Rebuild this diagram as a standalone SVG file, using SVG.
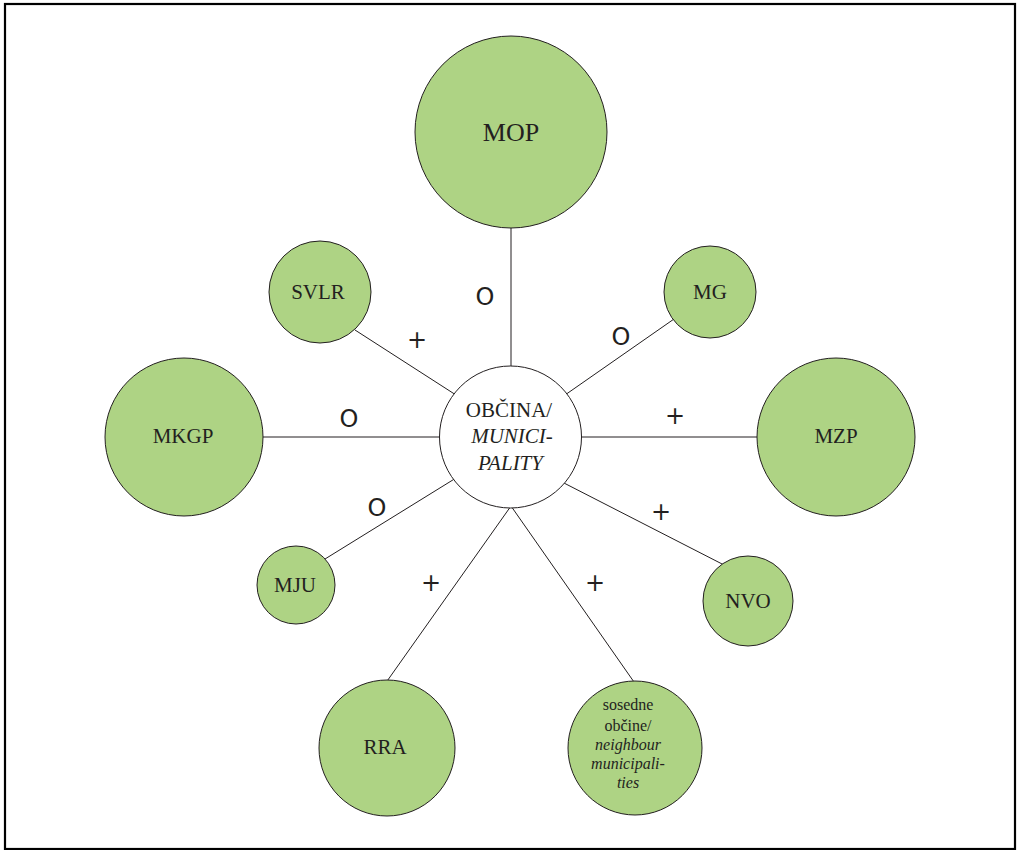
<svg xmlns="http://www.w3.org/2000/svg" width="1017" height="850" viewBox="0 0 1017 850">
<style>
.frame{fill:none;stroke:#000;stroke-width:2.2}
.edge{stroke:#231f20;stroke-width:1;fill:none}
.node{fill:#aed384;stroke:#231f20;stroke-width:1}
.hub{fill:#fff;stroke:#231f20;stroke-width:1}
.lbl{font-family:"Liberation Serif",serif;font-size:21px;fill:#231f20;text-anchor:middle}
.big{font-size:26px}
.small{font-size:16px}
.it{font-style:italic}
.sym{font-family:"DejaVu Sans",sans-serif;font-size:24px;fill:#231f20;text-anchor:middle}
</style>
<rect class="frame" x="5" y="4" width="1010" height="845"/>
<g id="connectors">
<line class="edge" x1="511" y1="226" x2="511" y2="370"/>
<line class="edge" x1="355" y1="330" x2="456" y2="395"/>
<line class="edge" x1="674" y1="319" x2="565" y2="395"/>
<line class="edge" x1="260" y1="437" x2="444" y2="437"/>
<line class="edge" x1="578" y1="437" x2="760" y2="437"/>
<line class="edge" x1="325" y1="559" x2="456" y2="478"/>
<line class="edge" x1="562" y1="482" x2="726" y2="566"/>
<line class="edge" x1="511" y1="506" x2="385" y2="684"/>
<line class="edge" x1="511" y1="506" x2="634" y2="682"/>
<text class="sym" x="485" y="305">O</text>
<text class="sym" x="417" y="348">+</text>
<text class="sym" x="621" y="345">O</text>
<text class="sym" x="349" y="427">O</text>
<text class="sym" x="675" y="424">+</text>
<text class="sym" x="377" y="516">O</text>
<text class="sym" x="661" y="520">+</text>
<text class="sym" x="431" y="591">+</text>
<text class="sym" x="595" y="591">+</text>
</g>
<g id="node-mop"><circle class="node" cx="511" cy="132" r="96"/><text class="lbl big" x="511" y="141">MOP</text></g>
<g id="node-svlr"><circle class="node" cx="320" cy="292" r="51"/><text class="lbl" x="318" y="299">SVLR</text></g>
<g id="node-mg"><circle class="node" cx="710" cy="292" r="46"/><text class="lbl" x="710" y="299">MG</text></g>
<g id="node-mkgp"><circle class="node" cx="184" cy="437" r="79"/><text class="lbl" x="183" y="443">MKGP</text></g>
<g id="node-mzp"><circle class="node" cx="836" cy="437" r="79"/><text class="lbl" x="836" y="443">MZP</text></g>
<g id="node-mju"><circle class="node" cx="296" cy="585" r="39"/><text class="lbl" x="295" y="592">MJU</text></g>
<g id="node-nvo"><circle class="node" cx="748" cy="601" r="45"/><text class="lbl" x="748" y="608">NVO</text></g>
<g id="node-rra"><circle class="node" cx="387" cy="748" r="68"/><text class="lbl" x="385" y="754">RRA</text></g>
<g id="node-sosedne"><circle class="node" cx="635" cy="748" r="67"/>
<text class="lbl small" x="628" y="710">sosedne</text>
<text class="lbl small" x="628" y="731">občine/</text>
<text class="lbl small it" x="628" y="750">neighbour</text>
<text class="lbl small it" x="628" y="769">municipali-</text>
<text class="lbl small it" x="628" y="788">ties</text>
</g>
<g id="node-obcina"><circle class="hub" cx="510.5" cy="437" r="71"/>
<text class="lbl" x="509" y="417">OBČINA/</text>
<text class="lbl it" x="512" y="443">MUNICI-</text>
<text class="lbl it" x="510.5" y="470">PALITY</text>
</g>
</svg>
